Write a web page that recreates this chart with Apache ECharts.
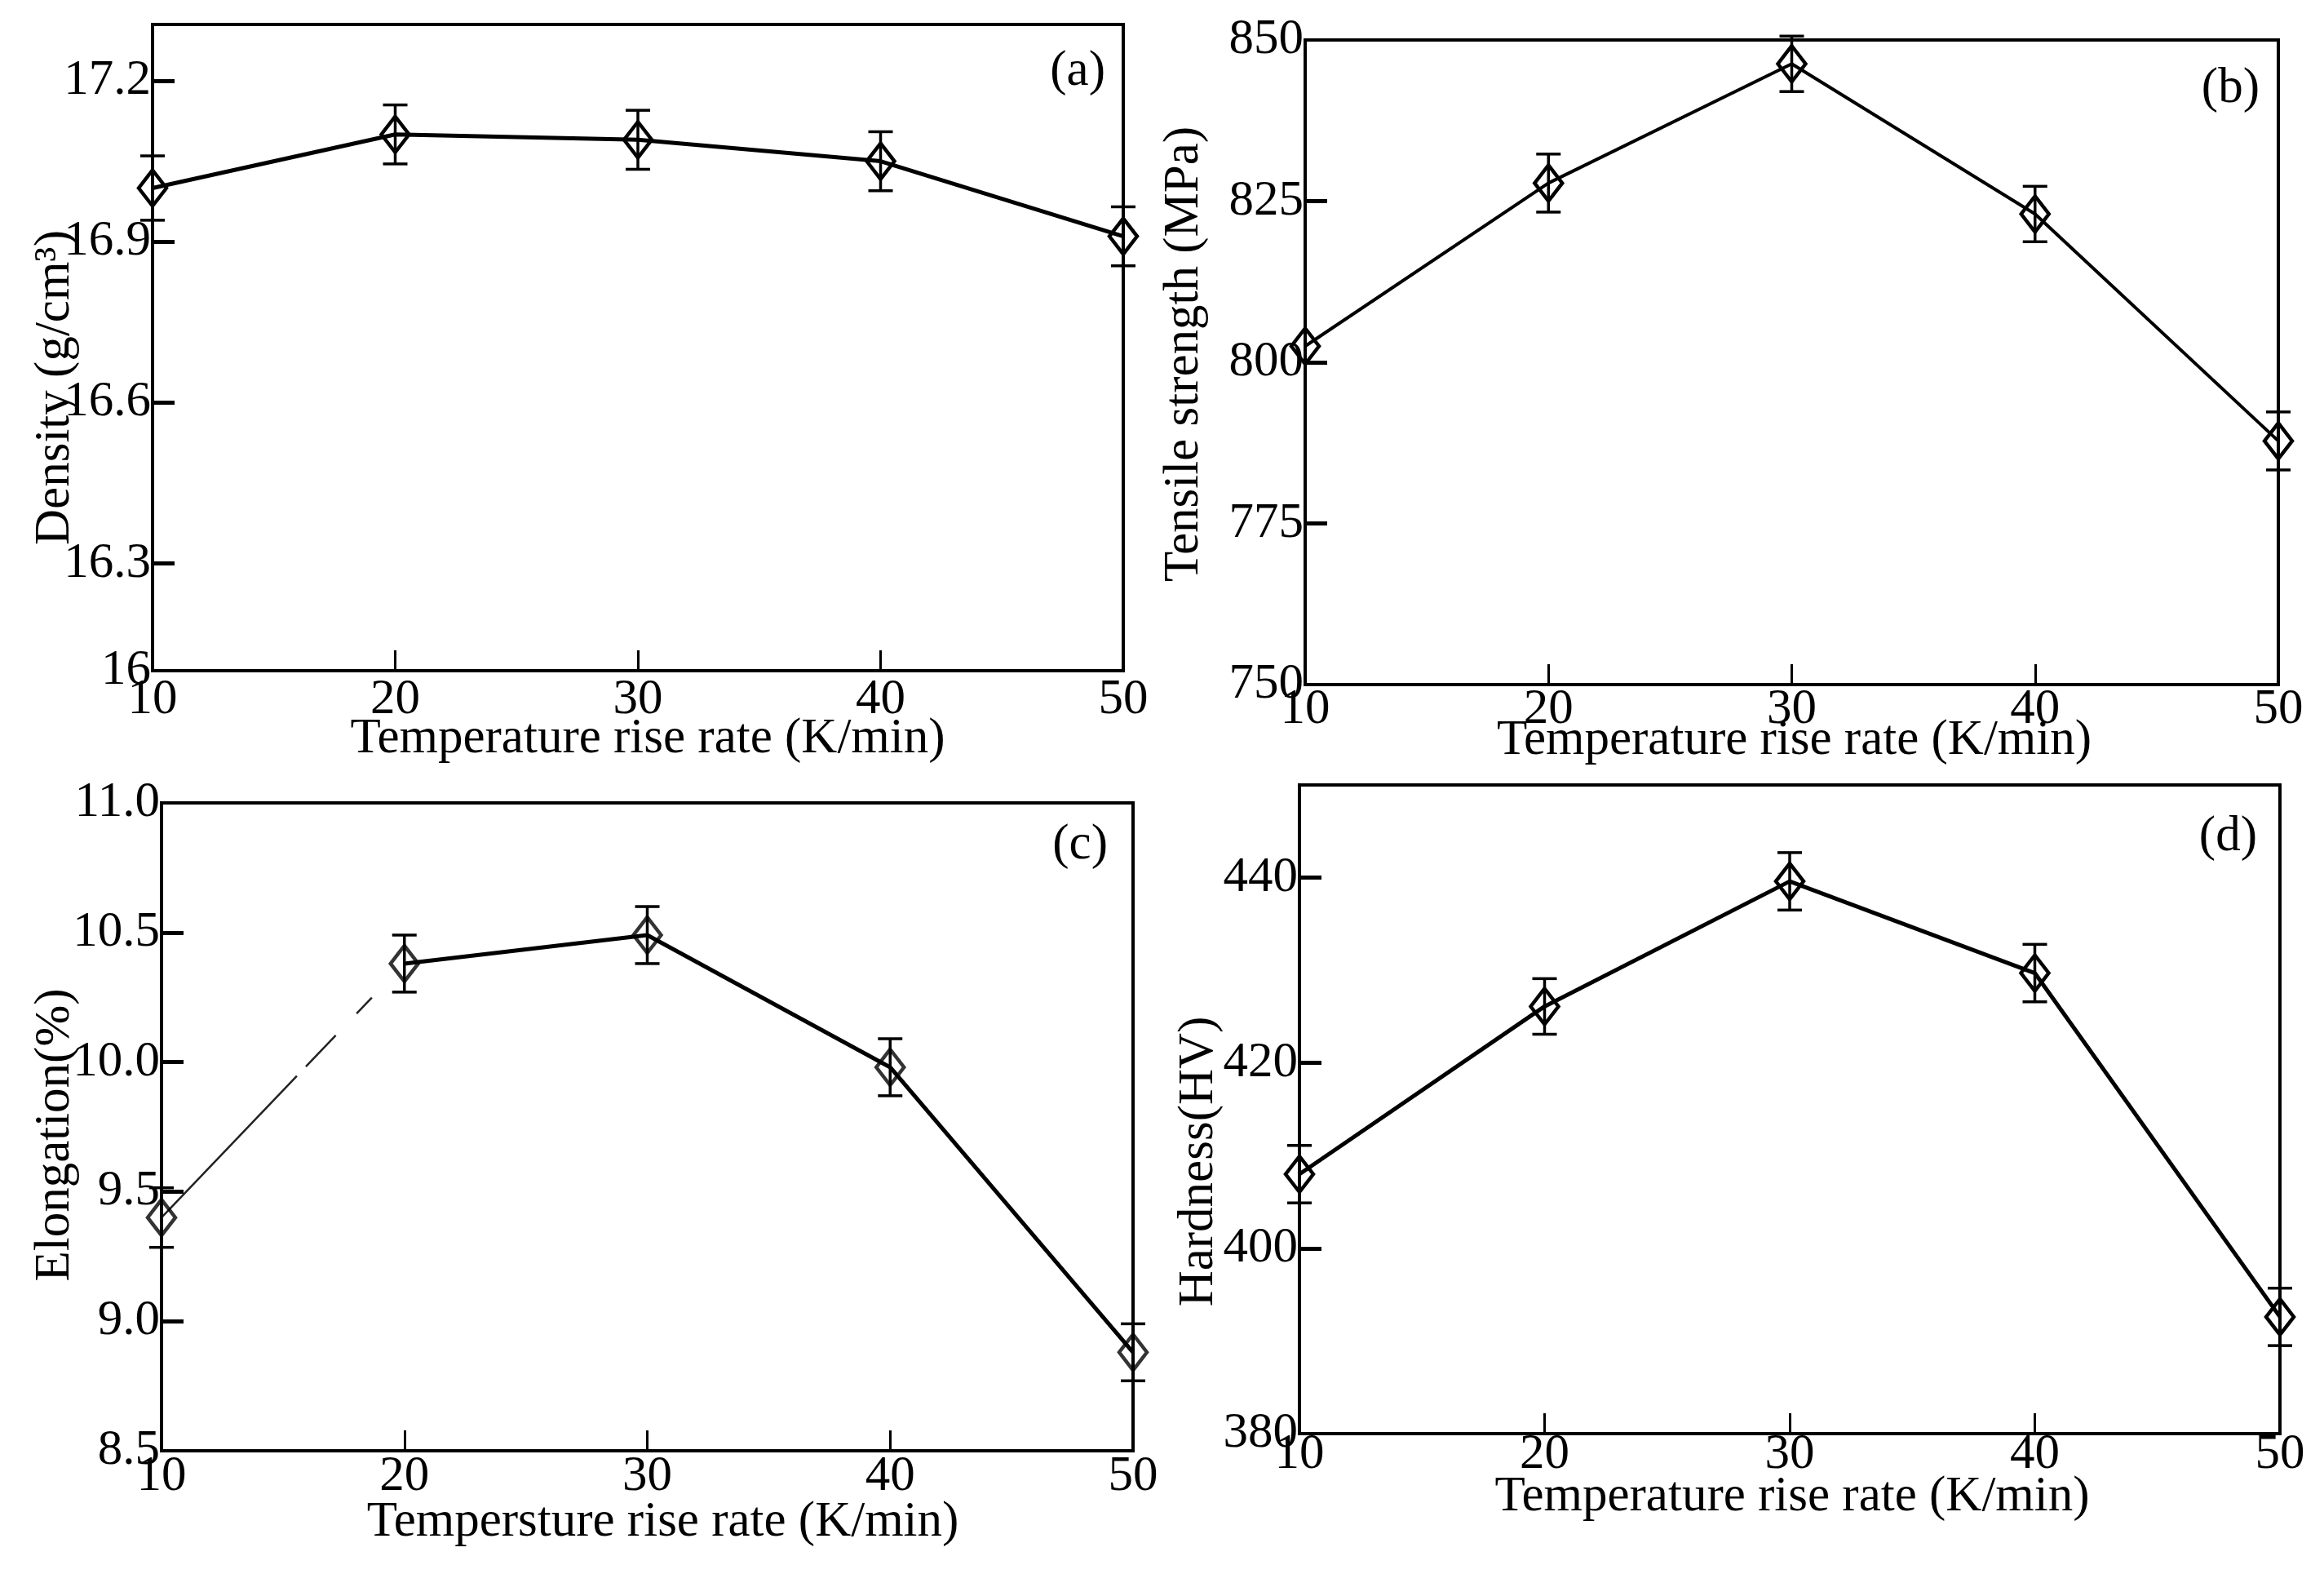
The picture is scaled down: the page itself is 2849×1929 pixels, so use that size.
<!DOCTYPE html>
<html>
<head>
<meta charset="utf-8">
<script src="https://cdn.jsdelivr.net/npm/echarts@6/dist/echarts.min.js"></script>
<style>html,body{margin:0;padding:0;background:#fff}#c{width:2849px;height:1929px}</style>
</head>
<body>
<div id="c"></div>
<script>
// ---- data ----
const rates = [10, 20, 30, 40, 50];
const density = [17.00, 17.10, 17.09, 17.05, 16.91];
const densityErr = [0.06, 0.055, 0.055, 0.055, 0.055];
const tensile = [802.5, 827.8, 846.3, 823.0, 787.8];
const tensileErr = [0, 4.5, 4.3, 4.3, 4.5];
const elongation = [9.40, 10.38, 10.49, 9.98, 8.88];
const elongationErr = [0.115, 0.11, 0.11, 0.11, 0.11];
const hardness = [408.0, 426.1, 439.6, 429.7, 392.6];
const hardnessErr = [3.1, 3.0, 3.1, 3.1, 3.1];

const xTicks = [10, 20, 30, 40, 50];
const densityTicks = [16.1, 16.3, 16.6, 16.9, 17.2];
const densityTickLabels = ['16', '16.3', '16.6', '16.9', '17.2'];
const tensileTicks = [750, 775, 800, 825, 850];
const elongTicks = [8.5, 9.0, 9.5, 10.0, 10.5, 11.0];
const hardTicks = [380, 400, 420, 440];

const FONT = 'Liberation Serif';
const FS = 61;
const chart = echarts.init(document.getElementById('c'));

function pairs(ys) { return rates.map((x, i) => [x, ys[i]]); }
function errPairs(ys, es) { return rates.map((x, i) => [x, ys[i], es[i]]); }

const grids = [
  { left: 187, top: 30, width: 1190, height: 792 },
  { left: 1600, top: 49, width: 1193, height: 790 },
  { left: 198, top: 984, width: 1191, height: 794 },
  { left: 1593, top: 962, width: 1202, height: 795 }
].map(g => Object.assign(g, { show: true, borderColor: '#000', borderWidth: 4, backgroundColor: 'transparent' }));

function xAxis(idx, name, gap, shift, labelMargin) {
  return {
    type: 'value', gridIndex: idx, min: 10, max: 50, interval: 10,
    name: name, nameLocation: 'middle', nameGap: gap, nameMoveOverlap: false,
    nameTextStyle: { fontFamily: FONT, fontSize: FS, color: '#000', padding: [0, 0, 0, 2 * shift] },
    axisLine: { show: true, lineStyle: { color: '#000', width: 4 } },
    axisTick: { show: true, inside: true, length: 25, lineStyle: { color: '#000', width: 3 } },
    axisLabel: { fontFamily: FONT, fontSize: FS, color: '#000', margin: labelMargin },
    splitLine: { show: false }
  };
}
function yAxis(idx, name, min, max, ticks, labels, gap, shiftDown, tickVals) {
  return {
    type: 'value', gridIndex: idx, min: min, max: max,
    name: name, nameLocation: 'middle', nameGap: gap, nameMoveOverlap: false,
    nameTextStyle: { fontFamily: FONT, fontSize: FS, color: '#000',
      padding: shiftDown >= 0 ? [0, 2 * shiftDown, 0, 0] : [0, 0, 0, -2 * shiftDown] },
    axisLine: { show: true, lineStyle: { color: '#000', width: 4 } },
    axisTick: { show: true, inside: true, length: 27, customValues: tickVals || ticks, lineStyle: { color: '#000', width: 5 } },
    axisLabel: { fontFamily: FONT, fontSize: FS, color: '#000', margin: 2, customValues: ticks,
      formatter: v => { const i = ticks.findIndex(t => Math.abs(t - v) < 1e-6); return i >= 0 ? labels[i] : ''; } },
    splitLine: { show: false }
  };
}

function errSeries(idx, ys, es) {
  return {
    type: 'custom', xAxisIndex: idx, yAxisIndex: idx, z: 5, clip: false,
    data: errPairs(ys, es),
    renderItem: (params, api) => {
      const x = api.value(0), y = api.value(1), e = api.value(2);
      if (!e) return null;
      const t = api.coord([x, y + e]), b = api.coord([x, y - e]);
      const hw = 15, st = { stroke: '#000', lineWidth: 3.5 };
      return { type: 'group', children: [
        { type: 'line', shape: { x1: t[0], y1: t[1], x2: b[0], y2: b[1] }, style: st },
        { type: 'line', shape: { x1: t[0] - hw, y1: t[1], x2: t[0] + hw, y2: t[1] }, style: st },
        { type: 'line', shape: { x1: b[0] - hw, y1: b[1], x2: b[0] + hw, y2: b[1] }, style: st }
      ] };
    }
  };
}
const markerStyle = { color: 'rgba(255,255,255,0)', borderColor: '#000', borderWidth: 4.5 };
const SYM = [34, 44];
function lineSeries(idx, data, width, showSym, dash) {
  return {
    type: 'line', xAxisIndex: idx, yAxisIndex: idx, data: data, z: 3,
    symbol: showSym ? 'diamond' : 'none', symbolSize: SYM, showSymbol: showSym,
    itemStyle: markerStyle, clip: false,
    lineStyle: { color: dash ? '#222' : '#000', width: width, type: dash || 'solid' },
    emphasis: { disabled: true }, animation: false
  };
}
function scatterSeries(idx, data) {
  return { type: 'scatter', xAxisIndex: idx, yAxisIndex: idx, data: data, z: 4,
    symbol: 'diamond', symbolSize: SYM, itemStyle: markerStyle, clip: false, animation: false };
}

const elongPairs = pairs(elongation);

const option = {
  backgroundColor: '#fff',
  animation: false,
  title: [
    { text: '(a)', right: 1494, top: 57 },
    { text: '(b)', right: 79, top: 78 },
    { text: '(c)', right: 1491, top: 1005 },
    { text: '(d)', right: 82, top: 995 }
  ].map(t => Object.assign(t, { padding: 0, textStyle: { fontFamily: FONT, fontSize: FS, fontWeight: 'normal', color: '#000' } })),
  grid: grids,
  xAxis: [
    xAxis(0, 'Temperature rise rate (K/min)', 53, 12, 5),
    xAxis(1, 'Temperature rise rate (K/min)', 38, 3, 0),
    xAxis(2, 'Tempersture rise rate (K/min)', 57, 19, 1),
    xAxis(3, 'Temperature rise rate (K/min)', 47, 3, -5)
  ],
  yAxis: [
    yAxis(0, 'Density (g/cm³)', 16.1, 17.305, densityTicks, densityTickLabels, 89, 49, densityTicks.slice(1)),
    yAxis(1, 'Tensile strength (MPa)', 750, 850, tensileTicks, tensileTicks.map(String), 118, -10, tensileTicks.slice(1, 4)),
    yAxis(2, 'Elongation(%)', 8.5, 11.0, elongTicks, elongTicks.map(v => v.toFixed(1)), 100, 10, elongTicks.slice(1, 5)),
    yAxis(3, 'Hardness(HV)', 380, 450, hardTicks, hardTicks.map(String), 93, 64, hardTicks.slice(1))
  ],
  series: [
    lineSeries(0, pairs(density), 5, true),
    errSeries(0, density, densityErr),
    lineSeries(1, pairs(tensile), 4, true),
    errSeries(1, tensile, tensileErr),
    lineSeries(2, elongPairs.slice(0, 2), 2.5, false, [240, 16, 53, 37, 27, 300]),
    lineSeries(2, elongPairs.slice(1), 5, false),
    scatterSeries(2, elongPairs),
    errSeries(2, elongation, elongationErr),
    lineSeries(3, pairs(hardness), 5, true),
    errSeries(3, hardness, hardnessErr)
  ]
};
chart.setOption(option);
</script>
</body>
</html>
